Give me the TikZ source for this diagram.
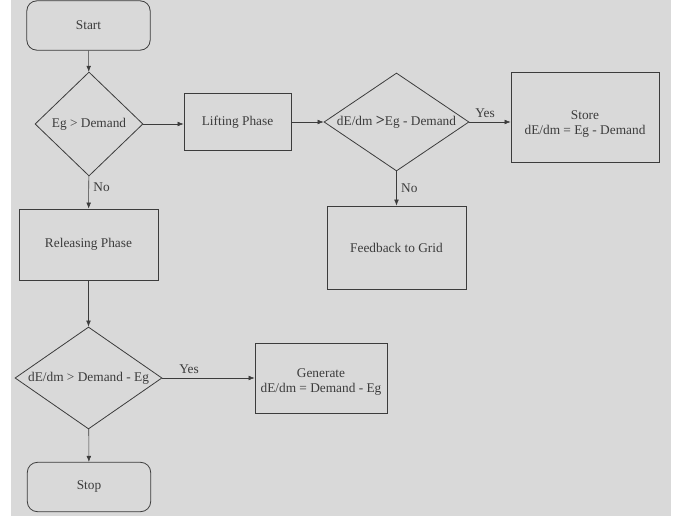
\documentclass[tikz,border=0pt]{standalone}
\usepackage{fontspec}
\setmainfont{Liberation Serif}
\usetikzlibrary{shapes.geometric,arrows.meta}
\definecolor{bggrey}{RGB}{217,217,217}
\definecolor{lineg}{RGB}{60,60,60}

\begin{document}
\begin{tikzpicture}[x=0.75pt, y=-0.75pt, color=lineg, >={Latex[length=4.5pt,width=3.5pt]},
  every node/.style={font=\fontsize{10}{11}\selectfont},
  termbox/.style={draw, rounded corners=7.5pt, line width=0.6pt, minimum width=92.5pt, minimum height=37pt},
  procbox/.style={draw, line width=0.6pt, align=center},
  decide/.style={draw, diamond, line width=0.6pt, inner sep=0pt}]
\fill[white] (0,0) rectangle (678,516);
\fill[bggrey] (11,0) rectangle (671,516);
\useasboundingbox (0,0) rectangle (678,516);

\node[termbox] (start) at (88.5,25.5) {Start};
\node[decide, aspect=1.04, minimum width=81pt, minimum height=78pt] (d1) at (89,124) {Eg > Demand};
\node[procbox, minimum width=80.25pt, minimum height=42.75pt] (lift) at (237.5,122) {Lifting Phase};
\node[decide, aspect=1.48, minimum width=108.75pt, minimum height=73.5pt] (d2) at (396.5,122) {dE/dm {\large\bfseries >}Eg - Demand};
\node[procbox, minimum width=111pt, minimum height=67.5pt] (store) at (585,117) {\rule{0pt}{17pt}Store\\dE/dm = Eg - Demand};
\node[procbox, minimum width=104.25pt, minimum height=62.25pt] (feed) at (396.5,247.5) {Feedback to Grid};
\node[procbox, minimum width=104.25pt, minimum height=53.25pt] (rel) at (88.5,244.5) {Releasing Phase};
\node[decide, aspect=1.44, minimum width=110.25pt, minimum height=76.5pt] (d3) at (88.5,378) {dE/dm > Demand - Eg};
\node[procbox, minimum width=99pt, minimum height=52.5pt] (gen) at (321,378) {\rule{0pt}{13pt}Generate\\dE/dm = Demand - Eg};
\node[termbox] (stop) at (89,487) {Stop};

\draw[->] (start) -- (d1);
\draw[->] (d1.east) -- (d1.east -| lift.west);
\draw[->] (lift) -- (d2);
\draw[->] (d2.east) -- node[above, pos=0.38] {Yes} (d2.east -| store.west);
\draw[->] (d2) -- node[right, pos=0.5] {No} (feed);
\draw[->] (d1) -- node[right, pos=0.35] {No} (rel);
\draw[->] (rel) -- (d3);
\draw[->] (d3) -- node[above, pos=0.29] {Yes} (gen);
\draw[->] (d3) -- (stop);
\end{tikzpicture}
\end{document}
